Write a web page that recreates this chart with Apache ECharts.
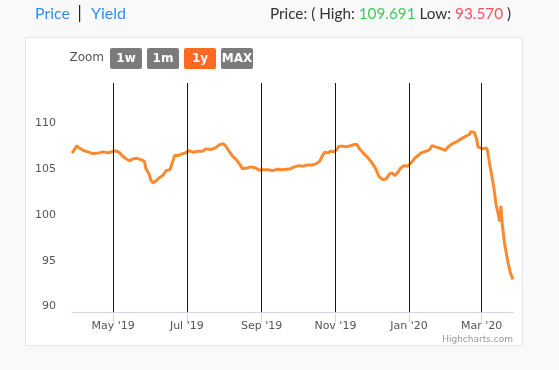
<!DOCTYPE html>
<html>
<head>
<meta charset="utf-8">
<script src="https://cdn.jsdelivr.net/npm/echarts@6/dist/echarts.min.js"></script>
<style>
html,body{margin:0;padding:0;background:#f9f9f9;}
#c{width:559px;height:370px;}
</style>
</head>
<body>
<div id="c"></div>
<script>
// ---- data ----
const dates = [
'2019-03-28','2019-04-01','2019-04-03','2019-04-07','2019-04-11','2019-04-14','2019-04-19','2019-04-23','2019-04-27','2019-04-30',
'2019-05-03','2019-05-06','2019-05-09','2019-05-12','2019-05-15','2019-05-17','2019-05-21','2019-05-24','2019-05-27','2019-05-28','2019-05-31',
'2019-06-01','2019-06-03','2019-06-05','2019-06-08','2019-06-11','2019-06-14','2019-06-17','2019-06-19','2019-06-21','2019-06-24','2019-06-26','2019-06-30',
'2019-07-03','2019-07-06','2019-07-10','2019-07-14','2019-07-17','2019-07-21','2019-07-25','2019-07-28','2019-07-31',
'2019-08-02','2019-08-05','2019-08-08','2019-08-11','2019-08-14','2019-08-16','2019-08-20','2019-08-23','2019-08-27','2019-08-30',
'2019-09-02','2019-09-06','2019-09-10','2019-09-14','2019-09-18','2019-09-23','2019-09-25','2019-09-28',
'2019-10-02','2019-10-05','2019-10-09','2019-10-13','2019-10-16','2019-10-19','2019-10-21','2019-10-23','2019-10-26','2019-10-28','2019-10-31',
'2019-11-02','2019-11-04','2019-11-07','2019-11-10','2019-11-14','2019-11-17','2019-11-19','2019-11-21','2019-11-24','2019-11-28',
'2019-12-01','2019-12-04','2019-12-07','2019-12-10','2019-12-13','2019-12-16','2019-12-18','2019-12-20','2019-12-23','2019-12-25','2019-12-28','2019-12-31',
'2020-01-03','2020-01-06','2020-01-11','2020-01-15','2020-01-18','2020-01-20','2020-01-23','2020-01-28','2020-01-31',
'2020-02-03','2020-02-06','2020-02-10','2020-02-13','2020-02-17','2020-02-20','2020-02-21','2020-02-24','2020-02-26','2020-02-27',
'2020-03-02','2020-03-05','2020-03-06','2020-03-08','2020-03-10','2020-03-11','2020-03-13','2020-03-14','2020-03-16','2020-03-17','2020-03-18',
'2020-03-20','2020-03-21','2020-03-23','2020-03-24','2020-03-25','2020-03-27'
];
const prices = [
107.35,108.15,107.9,107.6,107.45,107.3,107.37,107.48,107.37,107.5,
107.6,107.44,107.0,106.7,106.5,106.7,106.78,106.64,106.45,105.73,105.0,
104.45,104.09,104.26,104.63,104.89,105.43,105.54,106.28,107.08,107.08,107.22,107.37,
107.62,107.44,107.55,107.55,107.81,107.73,107.95,108.25,108.39,
108.17,107.55,107.0,106.64,106.09,105.65,105.73,105.84,105.73,105.47,
105.54,105.54,105.43,105.58,105.54,105.62,105.65,105.84,
105.98,105.91,106.06,106.06,106.17,106.45,107.0,107.44,107.37,107.55,107.48,
107.73,108.1,108.1,108.03,108.17,108.28,108.28,107.81,107.37,106.83,
106.34,105.73,104.81,104.45,104.53,105.11,105.18,104.89,105.3,105.73,105.98,105.91,
106.34,106.83,107.37,107.55,107.73,108.17,108.03,107.81,107.66,
108.1,108.39,108.64,108.9,109.19,109.38,109.69,109.63,108.83,108.03,
107.81,107.92,107.55,105.91,104.45,103.72,101.71,101.17,99.89,101.6,99.7,
97.5,97.33,95.33,95.14,94.2,93.57
];
const monthTicks = ['2019-05-01','2019-07-01','2019-09-01','2019-11-01','2020-01-01','2020-03-01'];
const yTicks = [90, 95, 100, 105, 110];
const zoomButtons = ['1w','1m','1y','MAX'];
const activeButton = '1y';
const highText = '109.691';
const lowText = '93.570';

function ts(s){const p=s.split('-').map(Number);return new Date(p[0],p[1]-1,p[2]).getTime();}
const monNames=['Jan','Feb','Mar','Apr','May','Jun','Jul','Aug','Sep','Oct','Nov','Dec'];

const chart = echarts.init(document.getElementById('c'), null, {renderer:'canvas'});

const graphics = [
  {type:'rect', shape:{x:25.5,y:37.5,width:497,height:308}, style:{fill:'#ffffff',stroke:'#e6e6e6',lineWidth:1}, z:-10},
  {type:'text', style:{x:35,y:14,text:'Price',fill:'#2e8ff2',font:'16px Lato',textVerticalAlign:'middle'}},
  {type:'rect', shape:{x:79,y:5,width:1.2,height:17}, style:{fill:'#222'}},
  {type:'text', style:{x:91,y:14,text:'Yield',fill:'#2e8ff2',font:'16px Lato',textVerticalAlign:'middle'}},
  {type:'text', style:{x:511,y:14,textAlign:'right',textVerticalAlign:'middle',
     text:'{a|Price: ( High: }{g|'+highText+'}{a| Low: }{r|'+lowText+'}{a| )}',
     rich:{a:{fill:'#333',font:'15.3px Lato'},g:{fill:'#3cce5c',font:'15.3px Lato'},r:{fill:'#f6525c',font:'15.3px Lato'}}}},
  {type:'text', style:{x:104,y:58,text:'Zoom',textAlign:'right',textVerticalAlign:'middle',fill:'#555',font:'12px "DejaVu Sans"'}},
  {type:'text', style:{x:513,y:340,text:'Highcharts.com',textAlign:'right',textVerticalAlign:'middle',fill:'#999',font:'9px "DejaVu Sans"'}}
];
const btnX=[110,147,184,221];
zoomButtons.forEach((b,i)=>{
  graphics.push({type:'rect', shape:{x:btnX[i],y:48,width:32,height:21,r:2}, style:{fill: b===activeButton?'#ff6a22':'#7b7b7b'}});
  graphics.push({type:'text', style:{x:btnX[i]+16,y:58.5,text:b,textAlign:'center',textVerticalAlign:'middle',fill:'#fff',font:'bold 12px "DejaVu Sans"'}});
});

chart.setOption({
  animation:false,
  backgroundColor:'transparent',
  graphic: graphics,
  grid:{left:72,right:46,top:83,bottom:58},
  xAxis:{
    type:'value',
    min: ts(dates[0]), max: ts(dates[dates.length-1]),
    axisLine:{show:true,lineStyle:{color:'#ccd6eb',width:1}},
    axisTick:{show:true,customValues:monthTicks.map(ts),length:10,lineStyle:{color:'#ccd6eb'}},
    axisLabel:{show:true,customValues:monthTicks.map(ts),color:'#555',fontSize:11,fontFamily:'DejaVu Sans',margin:9,
      formatter:v=>{const d=new Date(v);return monNames[d.getMonth()]+" '"+String(d.getFullYear()).slice(2);}},
    splitLine:{show:false}
  },
  yAxis:{
    type:'value', min:90, max:115, interval:5,
    axisLine:{show:false}, axisTick:{show:false}, splitLine:{show:false},
    axisLabel:{show:true,customValues:yTicks,color:'#555',fontSize:11,fontFamily:'DejaVu Sans',margin:16,verticalAlign:'bottom'}
  },
  series:[{
    type:'line',
    data: dates.map((d,i)=>[ts(d),prices[i]]),
    showSymbol:false, symbol:'none',
    lineStyle:{color:'#fb8a2e',width:3},
    itemStyle:{color:'#fb8a2e'},
    markLine:{
      silent:true, symbol:['none','none'], label:{show:false},
      lineStyle:{color:'#1a1a1a',width:1,type:'solid'},
      data: monthTicks.map(m=>({xAxis:ts(m)}))
    },
    z:3
  }]
});
</script>
</body>
</html>
